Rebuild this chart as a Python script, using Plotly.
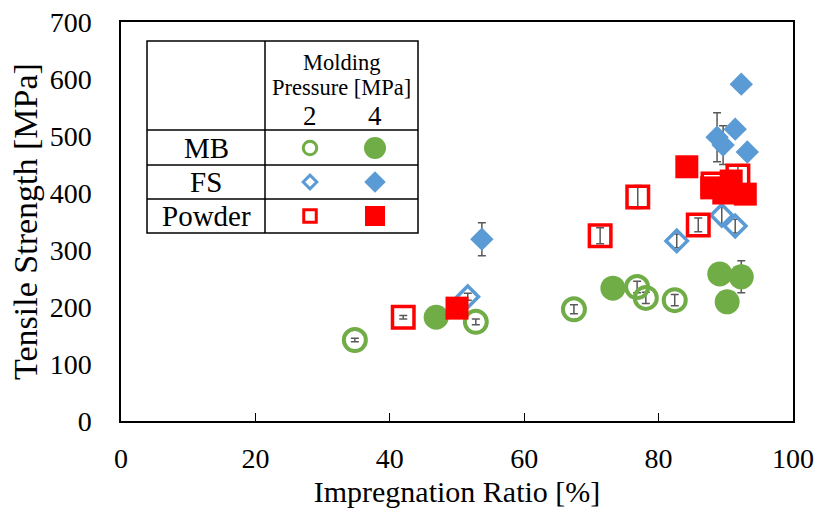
import plotly.graph_objects as go

# ---------------- data ----------------
mb2_x = [34.8, 52.8, 67.4, 76.8, 78.1, 82.4]
mb2_y = [142, 174, 196, 235, 216, 212]
mb2_e = [3, 5, 8, 10, 10, 10]

mb4_x = [46.9, 73.2, 89.1, 92.3, 90.2]
mb4_y = [182, 233, 258, 253, 209]
mb4_e = [5, 5, 5, 28, 5]

fs2_x = [51.6, 82.7, 89.4, 91.4]
fs2_y = [218, 316, 361, 342]
fs2_e = [6, 12, 15, 12]

fs4_x = [53.7, 92.3, 88.7, 91.4, 89.6, 93.2]
fs4_y = [319, 591, 498, 512, 484, 472]
fs4_e = [29, 5, 43, 8, 34, 5]

pw2_x = [42.0, 71.3, 76.9, 85.9, 88.1, 91.8]
pw2_y = [182, 325, 393, 344, 416, 430]
pw2_e = [3, 14, 20, 12, 10, 17]

pw4_x = [50.0, 84.2, 87.9, 90.8, 92.9, 89.7]
pw4_y = [198, 446, 409, 421, 398, 400]
pw4_e = [5, 5, 5, 5, 5, 5]

x_ticks = [0, 20, 40, 60, 80, 100]
y_ticks = [0, 100, 200, 300, 400, 500, 600, 700]

GREEN = "#70AD47"
BLUE = "#5B9BD5"
RED = "#FF0000"
ERR = "#595959"
FONT = "Liberation Serif"

fig = go.Figure()


def err(e):
    return dict(type="data", array=e, visible=True, color=ERR, thickness=1.5, width=4)


def add(x, y, e, symbol, color, size, lw):
    filled = "open" not in symbol
    fig.add_trace(go.Scatter(
        x=x, y=y, mode="markers", error_y=err(e), showlegend=False,
        marker=dict(symbol=symbol, size=size, color=color,
                    line=dict(color=color, width=0 if filled else lw)),
    ))


add(mb2_x, mb2_y, mb2_e, "circle-open", GREEN, 22, 4)
add(mb4_x, mb4_y, mb4_e, "circle", GREEN, 25, 0)
add(fs2_x, fs2_y, fs2_e, "diamond-open", BLUE, 16.5, 3.5)
add(fs4_x, fs4_y, fs4_e, "diamond", BLUE, 18, 0)
add(pw2_x, pw2_y, pw2_e, "square-open", RED, 21.5, 3.5)
add(pw4_x, pw4_y, pw4_e, "square", RED, 23, 0)

# ---------------- legend table (pixel overlay axes) ----------------
tbl_left, tbl_mid, tbl_right = 147, 265, 418
tbl_rows = [41, 130, 165, 199, 233]
leg_cols = [310, 375]
leg_row_y = [148, 182, 216]
leg_names = ["MB", "FS", "Powder"]
leg_open = [("circle-open", GREEN, 13.5, 3), ("diamond-open", BLUE, 10.5, 3), ("square-open", RED, 12.5, 3)]
leg_fill = [("circle", GREEN, 22), ("diamond", BLUE, 16.5), ("square", RED, 20)]

for yy, (s, c, sz, lw) in zip(leg_row_y, leg_open):
    fig.add_trace(go.Scatter(x=[leg_cols[0]], y=[yy], xaxis="x2", yaxis="y2", mode="markers",
                             showlegend=False, hoverinfo="skip",
                             marker=dict(symbol=s, size=sz, color=c, line=dict(color=c, width=lw))))
for yy, (s, c, sz) in zip(leg_row_y, leg_fill):
    fig.add_trace(go.Scatter(x=[leg_cols[1]], y=[yy], xaxis="x2", yaxis="y2", mode="markers",
                             showlegend=False, hoverinfo="skip",
                             marker=dict(symbol=s, size=sz, color=c, line=dict(width=0))))

shapes = []
line = dict(color="black", width=1.5)
shapes.append(dict(type="rect", xref="x2", yref="y2", x0=tbl_left, x1=tbl_right,
                   y0=tbl_rows[0], y1=tbl_rows[-1], line=line, layer="below"))
shapes.append(dict(type="line", xref="x2", yref="y2", x0=tbl_mid, x1=tbl_mid,
                   y0=tbl_rows[0], y1=tbl_rows[-1], line=line))
for ry in tbl_rows[1:-1]:
    shapes.append(dict(type="line", xref="x2", yref="y2", x0=tbl_left, x1=tbl_right,
                       y0=ry, y1=ry, line=line))

annotations = []
hdr_x = (tbl_mid + tbl_right) / 2
annotations.append(dict(xref="x2", yref="y2", x=hdr_x, y=62, text="Molding", showarrow=False,
                        font=dict(family=FONT, size=22.5, color="black")))
annotations.append(dict(xref="x2", yref="y2", x=hdr_x, y=87, text="Pressure [MPa]", showarrow=False,
                        font=dict(family=FONT, size=22.5, color="black")))
for cx, t in zip(leg_cols, ["2", "4"]):
    annotations.append(dict(xref="x2", yref="y2", x=cx, y=116, text=t, showarrow=False,
                            font=dict(family=FONT, size=27, color="black")))
for yy, n in zip(leg_row_y, leg_names):
    annotations.append(dict(xref="x2", yref="y2", x=(tbl_left + tbl_mid) / 2, y=yy, text=n,
                            showarrow=False, font=dict(family=FONT, size=29, color="black")))

fig.update_layout(
    width=817, height=516,
    margin=dict(l=121, r=24, t=22, b=95, autoexpand=False),
    paper_bgcolor="white", plot_bgcolor="white",
    font=dict(family=FONT, color="black"),
    shapes=shapes, annotations=annotations,
    xaxis=dict(range=[0, 100], tickvals=x_ticks, ticks="inside", ticklen=8, tickwidth=1.2,
               tickcolor="black", showgrid=False, zeroline=False, showline=True, linecolor="black",
               linewidth=1.5, mirror=True, automargin=False,
               tickfont=dict(family=FONT, size=28), ticklabelstandoff=12,
               title=dict(text="Impregnation Ratio [%]", font=dict(family=FONT, size=30), standoff=8)),
    yaxis=dict(range=[0, 700], tickvals=y_ticks, ticks="", showgrid=False, zeroline=False,
               showline=True, linecolor="black", linewidth=1.5, mirror=True, automargin=False,
               tickfont=dict(family=FONT, size=28), ticklabelstandoff=22,
               title=dict(text="Tensile Strength [MPa]", font=dict(family=FONT, size=34), standoff=2)),
    xaxis2=dict(overlaying="x", range=[121, 793], visible=False, fixedrange=True),
    yaxis2=dict(overlaying="y", range=[421, 22], visible=False, fixedrange=True),
)

fig.write_html("out.html")
